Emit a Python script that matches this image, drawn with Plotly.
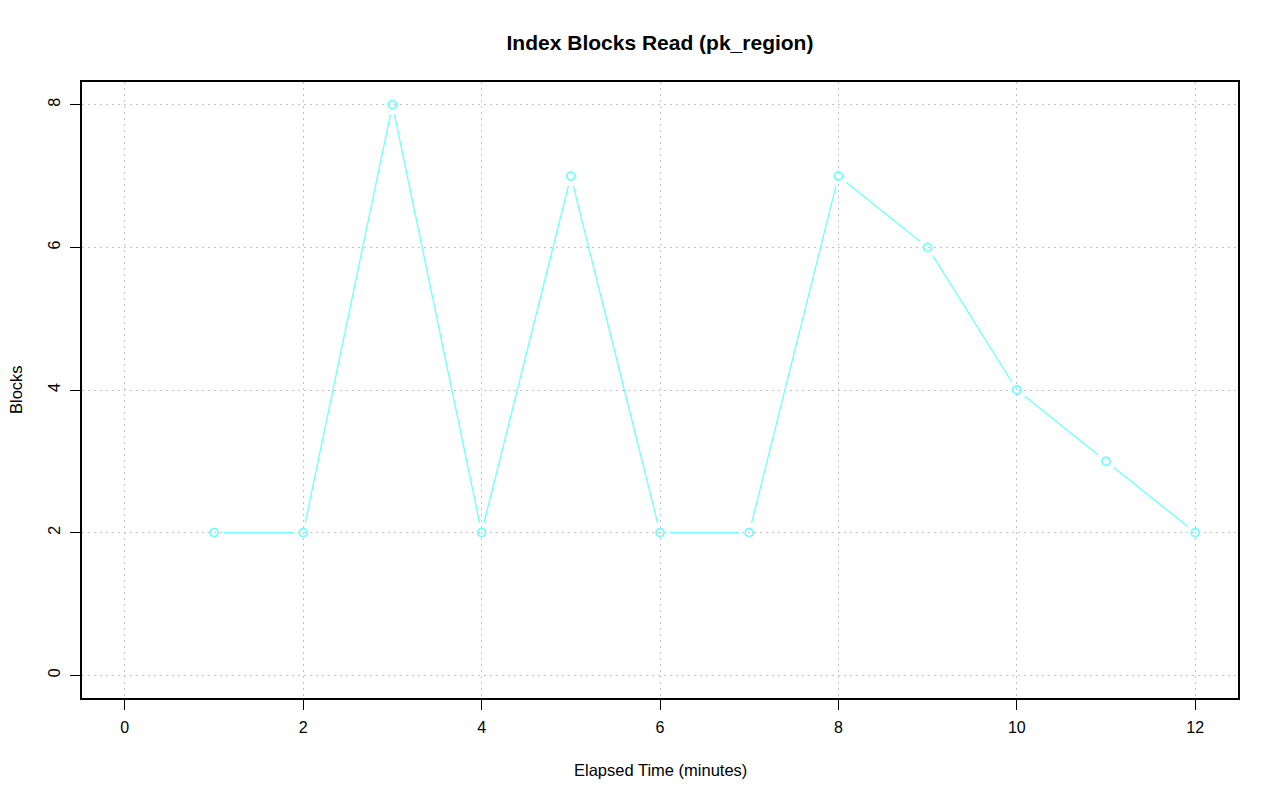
import plotly.graph_objects as go
import numpy as np

minutes = [1, 2, 3, 4, 5, 6, 7, 8, 9, 10, 11, 12]
blocks = [2, 2, 8, 2, 7, 2, 2, 7, 6, 4, 3, 2]
x_ticks = [0, 2, 4, 6, 8, 10, 12]
y_ticks = [0, 2, 4, 6, 8]

W, H = 1280, 801
OFF = 8  # page body margin
ML, MR, MT, MB = 82 - OFF, 42 + OFF, 82 - OFF, 103 + OFF
xr = [-0.48, 12.48]
yr = [-0.32, 8.32]
pw = W - ML - MR
ph = H - MT - MB
sx = pw / (xr[1] - xr[0])
sy = ph / (yr[1] - yr[0])
gap = 10.0

color = "rgb(110,255,255)"
FONT = "Liberation Sans, Arial, sans-serif"

# gapped segments like R type="b"
segx, segy = [], []
for i in range(len(minutes) - 1):
    x0, y0, x1, y1 = minutes[i], blocks[i], minutes[i + 1], blocks[i + 1]
    dxp, dyp = (x1 - x0) * sx, (y1 - y0) * sy
    L = np.hypot(dxp, dyp)
    if L <= 2 * gap:
        continue
    f = gap / L
    segx += [x0 + (x1 - x0) * f, x1 - (x1 - x0) * f, None]
    segy += [y0 + (y1 - y0) * f, y1 - (y1 - y0) * f, None]

fig = go.Figure()
fig.add_trace(go.Scatter(x=segx, y=segy, mode="lines",
                         line=dict(color=color, width=1.3), hoverinfo="skip"))
fig.add_trace(go.Scatter(x=minutes, y=blocks, mode="markers",
                         marker=dict(symbol="circle-open", size=8,
                                     color=color, line=dict(width=1.8, color=color))))

axis_common = dict(showline=True, linecolor="black", linewidth=1.5, mirror=True,
                   ticks="outside", ticklen=10, tickcolor="black", tickwidth=1,
                   showgrid=True, gridcolor="#c4c4c4", griddash="1.5px,4.5px", gridwidth=1.3,
                   zeroline=False, tickfont=dict(size=16, color="black", family=FONT))

fig.update_layout(
    width=W, height=H,
    margin=dict(l=ML, r=MR, t=MT, b=MB),
    paper_bgcolor="white", plot_bgcolor="white",
    showlegend=False,
    font=dict(family=FONT, color="black"),
    title=dict(text="<b>Index Blocks Read (pk_region)</b>", x=0.5, xanchor="center",
               xref="paper",
               y=1 - (43 - OFF) / H, yanchor="middle",
               font=dict(size=21, color="black", family=FONT)),
    xaxis=dict(range=xr, tickvals=x_ticks, ticktext=[str(v) for v in x_ticks],
               ticklabelstandoff=4, **axis_common),
    yaxis=dict(range=yr, tickvals=y_ticks, ticktext=[str(v) for v in y_ticks],
               tickangle=-90, ticklabelstandoff=4, **axis_common),
    annotations=[
        dict(text="Elapsed Time (minutes)", xref="paper", yref="paper",
             x=0.5, y=0, yshift=-72, showarrow=False, xanchor="center", yanchor="middle",
             font=dict(size=16.5, color="black", family=FONT)),
        dict(text="Blocks", xref="paper", yref="paper", textangle=-90,
             x=0, y=0.5, xshift=-66, showarrow=False, xanchor="center", yanchor="middle",
             font=dict(size=16.5, color="black", family=FONT)),
    ],
)
fig.write_html("out.html")
